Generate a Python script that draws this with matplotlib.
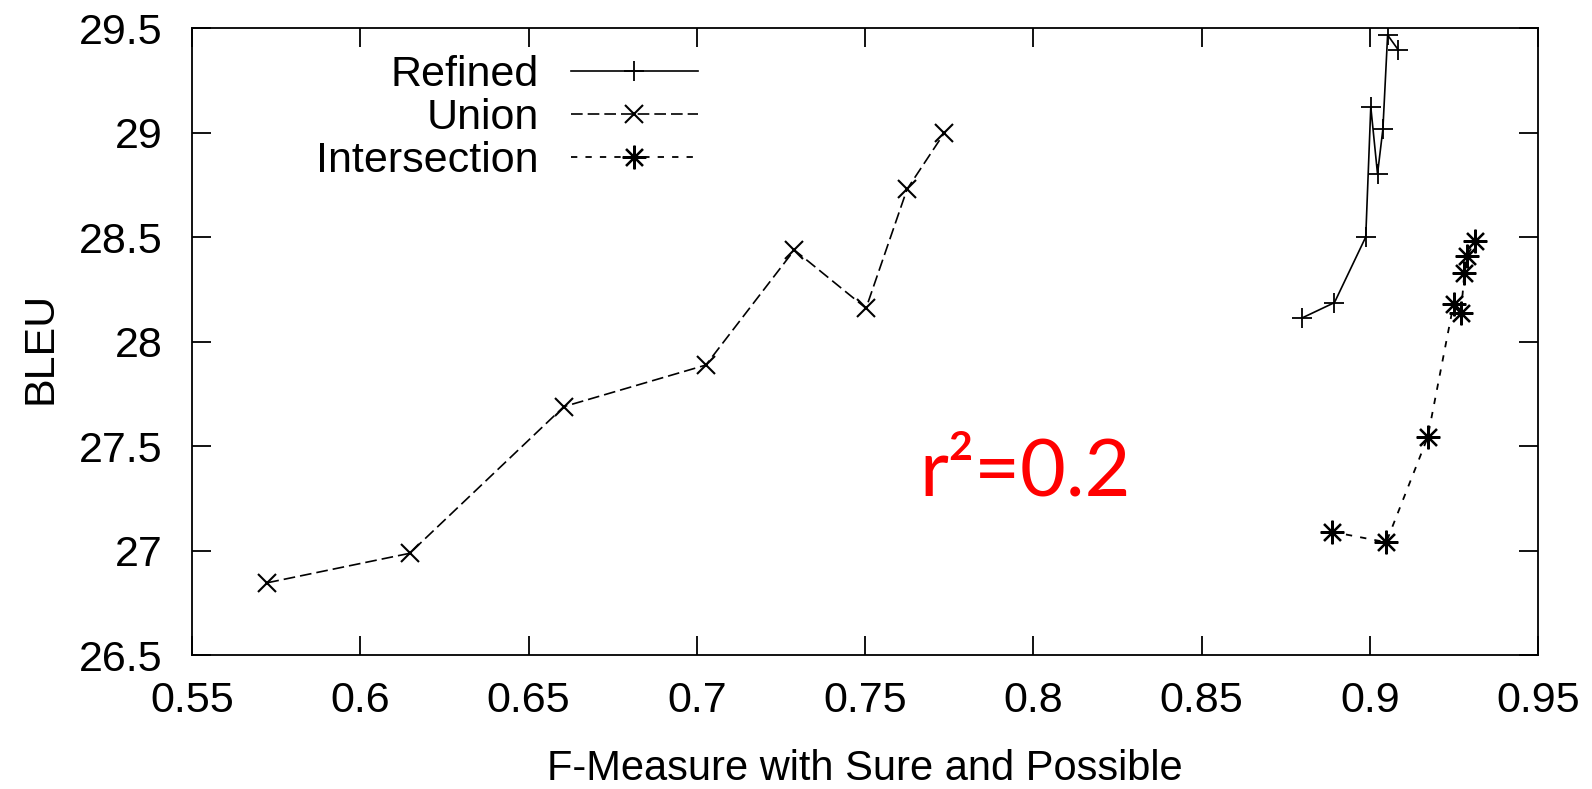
import matplotlib
matplotlib.use("Agg")
import matplotlib.pyplot as plt

# valores
refined_x = [0.8798, 0.8895, 0.8988, 0.9003, 0.9023, 0.9039, 0.9053, 0.9085]
refined_y = [28.113, 28.187, 28.501, 29.124, 28.803, 29.018, 29.468, 29.396]

union_x = [0.5724, 0.6147, 0.6605, 0.7027, 0.7290, 0.7503, 0.7625, 0.7736]
union_y = [26.846, 26.987, 27.689, 27.888, 28.439, 28.160, 28.730, 29.000]

inter_x = [0.8887, 0.9049, 0.9172, 0.9249, 0.9271, 0.9281, 0.9289, 0.9313]
inter_y = [27.090, 27.040, 27.542, 28.180, 28.136, 28.327, 28.410, 28.483]

xticks = [0.55, 0.6, 0.65, 0.7, 0.75, 0.8, 0.85, 0.9, 0.95]
xtick_labels = ["0.55", "0.6", "0.65", "0.7", "0.75", "0.8", "0.85", "0.9", "0.95"]
yticks = [26.5, 27, 27.5, 28, 28.5, 29, 29.5]
ytick_labels = ["26.5", "27", "27.5", "28", "28.5", "29", "29.5"]

plt.rcParams['font.family'] = ['Liberation Sans', 'DejaVu Sans']

fig = plt.figure(figsize=(15.92, 7.89), dpi=100)
ax = fig.add_axes([0.1206, 0.1698, 0.8455, 0.7943])

ax.plot(refined_x, refined_y, color='black', lw=1.2, linestyle='-',
        marker='+', markersize=14, markeredgewidth=1.3, label='Refined')
ax.plot(union_x, union_y, color='black', lw=1.2, linestyle=(0, (7, 3)),
        marker='x', markersize=13, markeredgewidth=1.5, label='Union')
ax.plot(inter_x, inter_y, color='black', lw=1.3, linestyle=(0, (3.5, 4.5)),
        marker=(8, 2, 0), markersize=17, markeredgewidth=1.6, label='Intersection')

ax.set_xlim(0.55, 0.95)
ax.set_ylim(26.5, 29.5)
ax.set_xticks(xticks)
ax.set_xticklabels(xtick_labels)
ax.set_yticks(yticks)
ax.set_yticklabels(ytick_labels)
ax.tick_params(axis='both', direction='in', length=14, width=1.3, labelsize=31,
               top=True, right=True)
ax.tick_params(axis='x', pad=19)
ax.tick_params(axis='y', pad=21)
for s in ax.spines.values():
    s.set_linewidth(1.3)

ax.set_xlabel("F-Measure with Sure and Possible", fontsize=30)
ax.xaxis.set_label_coords(0.5, -0.1995)
ax.xaxis.label.set_va('baseline')
ax.set_ylabel("BLEU", fontsize=31)
ax.yaxis.set_label_coords(-0.1124, 0.49)
ax.yaxis.label.set_va('center')

leg = ax.legend(loc='upper right', bbox_to_anchor=(0.3757, 0.9576), markerfirst=False,
                frameon=False, fontsize=31, handlelength=2.95, labelspacing=0.07,
                handletextpad=0.74, borderpad=0, borderaxespad=0)

ax.text(0.7976, 27.266, "r²=0.2", color='red', fontsize=57, family=['Lato', 'DejaVu Sans'],
        ha='center', va='baseline')

plt.savefig("out.png", dpi=100)
